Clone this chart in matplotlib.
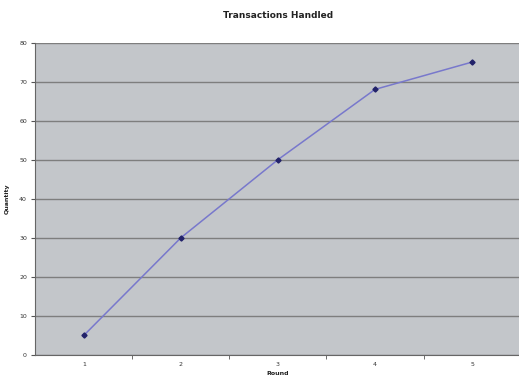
import matplotlib
matplotlib.use("Agg")
import matplotlib.pyplot as plt
import numpy as np

rounds = [1, 2, 3, 4, 5]
quantity = [5, 30, 50, 68, 75]
y_ticks = [0, 10, 20, 30, 40, 50, 60, 70, 80]

fig = plt.figure(figsize=(5.19, 3.80), dpi=100)
ax = fig.add_axes([0.068, 0.066, 0.935, 0.822])
ax.set_facecolor("#c3c6ca")

ax.plot(rounds, quantity, color="#7878cc", linewidth=1.1,
        marker="D", markersize=2.6, markerfacecolor="#22226a",
        markeredgecolor="#22226a", zorder=3)

ax.set_xlim(0.5, 5.5)
ax.set_ylim(0, 80)
ax.set_yticks(y_ticks)
ax.set_yticklabels([str(v) for v in y_ticks], fontsize=4.5, color="#333333")
ax.yaxis.grid(True, color="#7e7e7e", linewidth=1.0)
ax.set_axisbelow(True)

# category labels centred, tick marks on the category boundaries
ax.set_xticks(rounds)
ax.set_xticklabels([str(r) for r in rounds], fontsize=4.5, color="#333333")
ax.tick_params(axis="x", length=0, pad=5)
ax.set_xticks(np.arange(1.5, 5.5, 1.0), minor=True)
ax.tick_params(axis="x", which="minor", length=3, color="#555555")
ax.tick_params(axis="y", length=3, color="#555555", pad=3)

for side in ["top", "right"]:
    ax.spines[side].set_visible(False)
for side in ["left", "bottom"]:
    ax.spines[side].set_color("#666666")
    ax.spines[side].set_linewidth(0.8)

ax.set_title("Transactions Handled", fontsize=6.5, fontweight="bold",
             color="#222222", pad=17.5)
ax.set_xlabel("Round", fontsize=4.5, fontweight="bold", color="#222222", labelpad=3)
ax.set_ylabel("Quantity", fontsize=4.5, fontweight="bold", color="#222222", labelpad=7)

fig.savefig("out.png", dpi=100, facecolor="white")
